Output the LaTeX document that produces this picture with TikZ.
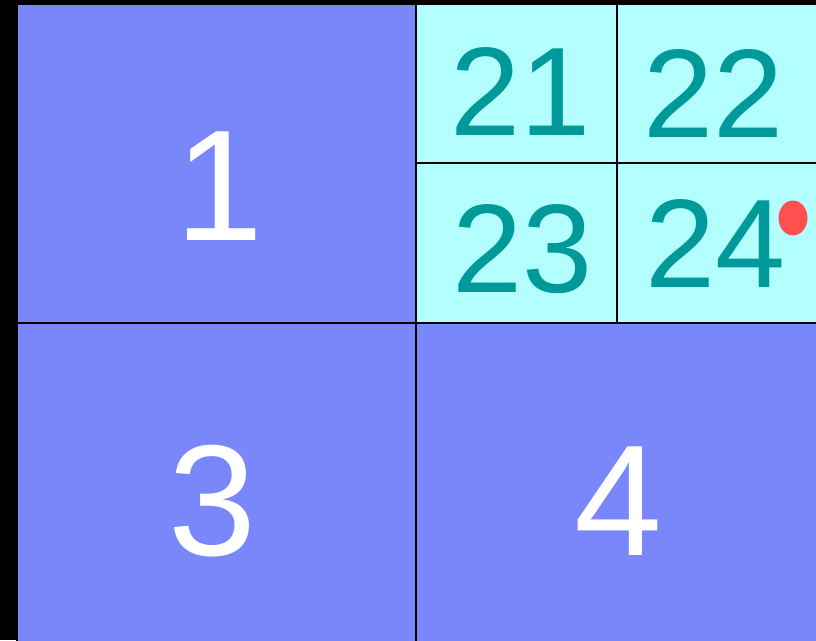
\documentclass[tikz,border=0pt]{standalone}
\usepackage{fontspec}
\setmainfont{Liberation Sans}
\usetikzlibrary{shapes.geometric}
\definecolor{bigblue}{HTML}{7A87FA}
\definecolor{lightcyan}{HTML}{B3FFFF}
\definecolor{tealtxt}{HTML}{009999}
\definecolor{reddot}{HTML}{FF5050}
\tikzset{
  bigbox/.style={fill=bigblue, draw=black, line width=1.3pt},
  smallbox/.style={fill=lightcyan, draw=black, line width=1.3pt},
  biglabel/.style={anchor=base, inner sep=0pt, text=white, font=\fontsize{158}{158}\selectfont},
  smalllabel/.style={anchor=base, inner sep=0pt, text=tealtxt, font=\fontsize{126}{126}\selectfont},
}
\begin{document}
\begin{tikzpicture}[x=1pt, y=-1pt]
\fill[black] (0,0) rectangle (816,640);
\useasboundingbox (0,0) rectangle (816,640);
% large quadrants
\draw[bigbox] (17,4) rectangle (416,323);
\draw[bigbox] (17,323) rectangle (416,645);
\draw[bigbox] (416,323) rectangle (821,645);
% small boxes
\draw[smallbox] (416,4) rectangle (617,163);
\draw[smallbox] (617,4) rectangle (821,163);
\draw[smallbox] (416,163) rectangle (617,323);
\draw[smallbox] (617,163) rectangle (821,323);
% labels
\node[biglabel] (l1) at (219,240) {1};
\node[biglabel] (l3) at (212,555) {3};
\node[biglabel] (l4) at (618,555) {4};
\node[smalllabel] (l21) at (521,135) {21};
\node[smalllabel] (l22) at (714,137) {22};
\node[smalllabel] (l23) at (523,292) {23};
\node[smalllabel] (l24) at (716,287) {24};
% red dot
\node[fill=reddot, ellipse, minimum width=29pt, minimum height=35pt, inner sep=0pt] (dot) at (793,218) {};
\end{tikzpicture}
\end{document}
